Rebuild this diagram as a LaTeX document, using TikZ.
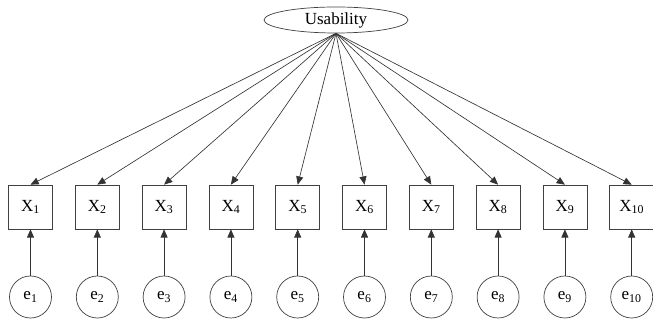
\documentclass[tikz,border=0pt]{standalone}
\usepackage{fontspec}
\setmainfont{Liberation Serif}
\usepackage{tikz}
\usetikzlibrary{arrows.meta,shapes.geometric}

\begin{document}
\begin{tikzpicture}[x=0.03cm,y=-0.03cm,
  font=\fontsize{14.5}{17}\selectfont,
  item/.style={draw=black!75,line width=0.6pt,minimum size=1.32cm,inner sep=0pt},
  err/.style={draw=black!75,line width=0.6pt,circle,minimum size=1.26cm,inner sep=0pt},
  load/.style={draw=black!80,line width=0.55pt,-{Triangle[length=7pt,width=6pt]}}]
\useasboundingbox (0,0) rectangle (653,320);
\node[draw=black!75,line width=0.6pt,ellipse,minimum width=4.32cm,minimum height=0.78cm,inner sep=0pt] (usab) at (336,20) {Usability};
% indicators
\node[item] (x1) at (30.5,207) {X\textsubscript{1}};
\node[item] (x2) at (97.3,207) {X\textsubscript{2}};
\node[item] (x3) at (164.1,207) {X\textsubscript{3}};
\node[item] (x4) at (230.9,207) {X\textsubscript{4}};
\node[item] (x5) at (297.7,207) {X\textsubscript{5}};
\node[item] (x6) at (364.5,207) {X\textsubscript{6}};
\node[item] (x7) at (431.3,207) {X\textsubscript{7}};
\node[item] (x8) at (498.1,207) {X\textsubscript{8}};
\node[item] (x9) at (564.9,207) {X\textsubscript{9}};
\node[item] (x10) at (631.7,207) {X\textsubscript{10}};
% error terms
\node[err] (e1) at (30.5,297) {e\textsubscript{1}};
\node[err] (e2) at (97.3,297) {e\textsubscript{2}};
\node[err] (e3) at (164.1,297) {e\textsubscript{3}};
\node[err] (e4) at (230.9,297) {e\textsubscript{4}};
\node[err] (e5) at (297.7,297) {e\textsubscript{5}};
\node[err] (e6) at (364.5,297) {e\textsubscript{6}};
\node[err] (e7) at (431.3,297) {e\textsubscript{7}};
\node[err] (e8) at (498.1,297) {e\textsubscript{8}};
\node[err] (e9) at (564.9,297) {e\textsubscript{9}};
\node[err] (e10) at (631.7,297) {e\textsubscript{10}};
% loadings
\draw[load] (usab.south) -- (x1.north);
\draw[load] (usab.south) -- (x2.north);
\draw[load] (usab.south) -- (x3.north);
\draw[load] (usab.south) -- (x4.north);
\draw[load] (usab.south) -- (x5.north);
\draw[load] (usab.south) -- (x6.north);
\draw[load] (usab.south) -- (x7.north);
\draw[load] (usab.south) -- (x8.north);
\draw[load] (usab.south) -- (x9.north);
\draw[load] (usab.south) -- (x10.north);
\draw[load] (e1) -- (x1);
\draw[load] (e2) -- (x2);
\draw[load] (e3) -- (x3);
\draw[load] (e4) -- (x4);
\draw[load] (e5) -- (x5);
\draw[load] (e6) -- (x6);
\draw[load] (e7) -- (x7);
\draw[load] (e8) -- (x8);
\draw[load] (e9) -- (x9);
\draw[load] (e10) -- (x10);
\end{tikzpicture}
\end{document}
